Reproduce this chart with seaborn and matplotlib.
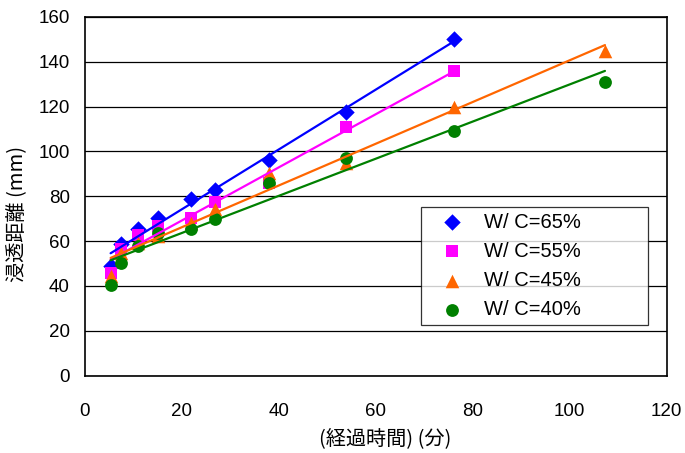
import matplotlib
matplotlib.use("Agg")
import matplotlib.pyplot as plt
import numpy as np
import pandas as pd
import seaborn as sns

# Data
series_names = ['W/ C=65%', 'W/ C=55%', 'W/ C=45%', 'W/ C=40%']
time_short = [5.3, 7.4, 11, 15.1, 21.8, 26.8, 38, 53.9, 76.1]
time_long = [5.3, 7.4, 11, 15.1, 21.8, 26.8, 38, 53.9, 76.1, 107.3]
depth_65 = [48.9, 58.6, 65.3, 70.2, 78.6, 82.8, 96.0, 117.5, 150.3]
depth_55 = [45.7, 56.3, 62.6, 66.7, 70.2, 77.6, 86.1, 111.0, 135.8]
depth_45 = [44.5, 54.9, 59.3, 62.3, 68.2, 74.2, 90.2, 95.0, 119.9, 144.7]
depth_40 = [40.4, 50.4, 57.8, 63.8, 65.3, 70.0, 86.1, 97.2, 109.0, 130.9]

x_ticks = [0, 20, 40, 60, 80, 100, 120]
y_ticks = [0, 20, 40, 60, 80, 100, 120, 140, 160]

colors = ['#0000FF', '#FF00FF', '#FF6600', '#008000']
markers = ['D', 's', '^', 'o']
marker_sizes = [70, 75, 95, 85]


def plot():
    sns.set_style('white')
    plt.rcParams['font.family'] = ['Liberation Sans', 'Noto Sans CJK JP', 'DejaVu Sans']
    plt.rcParams['text.color'] = 'black'
    plt.rcParams['axes.labelcolor'] = 'black'
    plt.rcParams['xtick.color'] = 'black'
    plt.rcParams['ytick.color'] = 'black'

    times = [time_short, time_short, time_long, time_long]
    depths = [depth_65, depth_55, depth_45, depth_40]
    df = pd.DataFrame({
        'time': np.concatenate(times),
        'depth': np.concatenate(depths),
        'wc': np.repeat(series_names, [len(t) for t in times]),
    })

    fig = plt.figure(figsize=(6.85, 4.53), dpi=100)
    ax = fig.add_axes([0.124, 0.1706, 0.849, 0.7924])

    # points and fitted linear trend lines, one series at a time
    for name, color, marker, size in zip(series_names, colors, markers, marker_sizes):
        sub = df[df['wc'] == name]
        sns.scatterplot(x='time', y='depth', data=sub, color=color, marker=marker,
                        s=size, edgecolor=color, linewidth=0, label=name, ax=ax, zorder=3)
        sns.regplot(x='time', y='depth', data=sub, scatter=False, ci=None, truncate=True,
                    color=color, line_kws={'lw': 1.6, 'zorder': 4}, ax=ax)

    ax.set_xlim(0, 120)
    ax.set_ylim(0, 160)
    ax.set_xticks(x_ticks)
    ax.set_yticks(y_ticks)
    ax.tick_params(axis='both', length=0, labelsize=13.5)
    ax.tick_params(axis='x', pad=20)
    ax.tick_params(axis='y', pad=11)

    ax.yaxis.grid(True, color='black', lw=0.9)
    ax.xaxis.grid(False)
    for sp in ax.spines.values():
        sp.set_visible(True)
        sp.set_color('black')
        sp.set_linewidth(1.2)

    ax.set_xlabel('(経過時間) (分)', fontsize=14.5, family=['Noto Sans CJK JP'])
    ax.set_ylabel('浸透距離 (mm)', fontsize=14.5, family=['Noto Sans CJK JP'])
    ax.xaxis.set_label_coords(0.516, -0.145)
    ax.yaxis.set_label_coords(-0.098, 0.45)

    leg = ax.legend(loc='upper left', bbox_to_anchor=(0.577, 0.155, 0.391, 0.316),
                    mode='expand', fontsize=14.5, frameon=True, fancybox=False,
                    borderpad=0.3, labelspacing=0.5, handletextpad=0.3,
                    handlelength=2.55, borderaxespad=0)
    leg.get_frame().set_edgecolor('black')
    leg.get_frame().set_linewidth(0.9)

    fig.savefig('out.png', dpi=100)


if __name__ == "__main__":
    plot()
